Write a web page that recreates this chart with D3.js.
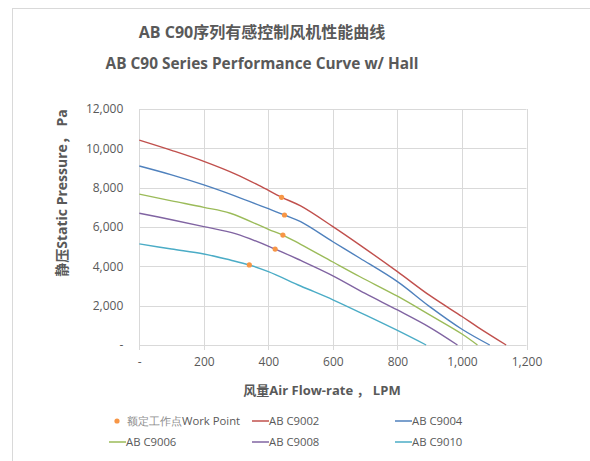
<!DOCTYPE html>
<html><head><meta charset="utf-8">
<script src="https://cdn.jsdelivr.net/npm/d3@7"></script>
<style>
html,body{margin:0;padding:0;background:#fff;}
svg{display:block;font-family:"Open Sans","Noto Sans CJK SC",sans-serif;}
</style></head><body>
<svg id="c" width="590" height="461"></svg>
<script>
// ---- data ----
const titleLines = ["AB C90序列有感控制风机性能曲线", "AB C90 Series Performance Curve w/ Hall"];
const xTicks = [0, 200, 400, 600, 800, 1000, 1200];
const yTicks = [0, 2000, 4000, 6000, 8000, 10000, 12000];
const seriesNames = ["AB C9002", "AB C9004", "AB C9006", "AB C9008", "AB C9010"];
const seriesColors = ["#C0504D", "#4F81BD", "#9BBB59", "#8064A2", "#4BACC6"];
const c9002 = [[0,10420],[100,9900],[200,9340],[300,8680],[374,8085],[441,7510],[500,7070],[600,6020],[684,5080],[800,3730],[900,2520],[1000,1450],[1050,900],[1137,0]];
const c9004 = [[0,9100],[100,8650],[200,8140],[300,7560],[400,6930],[450,6610],[500,6270],[600,5250],[684,4410],[800,3220],[900,1950],[1000,800],[1086,0]];
const c9006 = [[0,7670],[100,7330],[200,7000],[282,6700],[400,5880],[445,5590],[500,5120],[600,4220],[684,3470],[800,2480],[900,1530],[1000,560],[1048,0]];
const c9008 = [[0,6700],[100,6370],[200,6020],[300,5650],[421,4880],[500,4300],[600,3520],[700,2620],[800,1780],[900,900],[986,0]];
const c9010 = [[0,5140],[100,4880],[200,4630],[282,4320],[341,4070],[400,3730],[500,3000],[600,2300],[700,1530],[800,740],[889,0]];
const workFlow = [441, 450, 445, 421, 341];
const workPressure = [7510, 6610, 5590, 4880, 4070];
const workLabelCn = "额定工作点";
const workLabelEn = "Work Point";
const xTitle = "风量Air Flow-rate ， LPM";
const yTitle = "静压Static Pressure， Pa";

// ---- layout ----
const svg = d3.select("#c");
const L = 139.3, R = 526.5, T = 109, B = 345;
const x = d3.scaleLinear().domain([0, 1200]).range([L, R]);
const y = d3.scaleLinear().domain([0, 12000]).range([B, T]);
const txt = "#595959", grid = "#D9D9D9";

// chart border
svg.append("rect").attr("x", 12.5).attr("y", 8.5).attr("width", 600).attr("height", 470)
  .attr("fill", "none").attr("stroke", grid);

// titles
titleLines.forEach((t, i) => {
  svg.append("text").attr("x", 262).attr("y", 38 + i * 31).attr("text-anchor", "middle")
    .attr("font-size", i === 0 ? 16 : 15.4).attr("font-weight", "bold").attr("fill", txt).text(t);
});

// gridlines
svg.append("g").selectAll("line").data(yTicks).join("line")
  .attr("x1", L).attr("x2", R).attr("y1", d => Math.round(y(d)) + 0.5).attr("y2", d => Math.round(y(d)) + 0.5)
  .attr("stroke", grid).attr("stroke-width", 1);
svg.append("g").selectAll("line").data(xTicks).join("line")
  .attr("y1", T).attr("y2", B + 5).attr("x1", d => Math.round(x(d)) + 0.5).attr("x2", d => Math.round(x(d)) + 0.5)
  .attr("stroke", grid).attr("stroke-width", 1);

const fmt = d => d === 0 ? "-" : d3.format(",")(d);
// axes labels
const yAxis = d3.axisLeft(y).tickValues(yTicks).tickFormat(fmt).tickSize(0).tickPadding(16);
const gy = svg.append("g").attr("transform", `translate(${L},0)`).call(yAxis);
gy.select(".domain").remove();
gy.selectAll("text").attr("fill", txt).attr("font-size", 12).attr("font-family", "Open Sans, sans-serif");
const xAxis = d3.axisBottom(x).tickValues(xTicks).tickFormat(fmt).tickSize(0).tickPadding(12);
const gx = svg.append("g").attr("transform", `translate(0,${B})`).call(xAxis);
gx.select(".domain").remove();
gx.selectAll("text").attr("fill", txt).attr("font-size", 12).attr("font-family", "Open Sans, sans-serif");

// axis titles
svg.append("text").attr("x", 322).attr("y", 395).attr("text-anchor", "middle")
  .attr("font-size", 13).attr("font-weight", "bold").attr("fill", txt).text(xTitle);
svg.append("text").attr("transform", "translate(67,193) rotate(-90)").attr("text-anchor", "middle")
  .attr("font-size", 14).attr("font-weight", "bold").attr("fill", txt).text(yTitle);

// lines
const allSeries = [c9002, c9004, c9006, c9008, c9010];
const line = d3.line().x(d => x(d[0])).y(d => y(d[1])).curve(d3.curveCatmullRom.alpha(0.5));
svg.append("g").selectAll("path").data(allSeries).join("path")
  .attr("d", line).attr("fill", "none").attr("stroke", (d, i) => seriesColors[i]).attr("stroke-width", 1.4);

// work points
svg.append("g").selectAll("circle").data(workFlow).join("circle")
  .attr("cx", (d) => x(d)).attr("cy", (d, i) => y(workPressure[i])).attr("r", 2.6).attr("fill", "#F79646");

// legend
const lg = svg.append("g").attr("font-size", 11.3).attr("fill", txt);
lg.append("circle").attr("cx", 117).attr("cy", 421).attr("r", 2.6).attr("fill", "#F79646");
const wt = lg.append("text").attr("x", 127).attr("y", 425);
wt.append("tspan").attr("fill", "#8c8c8c").attr("font-family", "serif").text(workLabelCn);
wt.append("tspan").text(workLabelEn);
const legPos = [[252, 421], [395, 421], [109, 442], [252, 442], [395, 442]];
seriesNames.forEach((n, i) => {
  const [lx, ly] = legPos[i];
  lg.append("line").attr("x1", lx).attr("x2", lx + 17).attr("y1", ly).attr("y2", ly)
    .attr("stroke", seriesColors[i]).attr("stroke-width", 1.5);
  lg.append("text").attr("x", lx + 17).attr("y", ly + 4).text(n);
});
</script>
</body></html>
